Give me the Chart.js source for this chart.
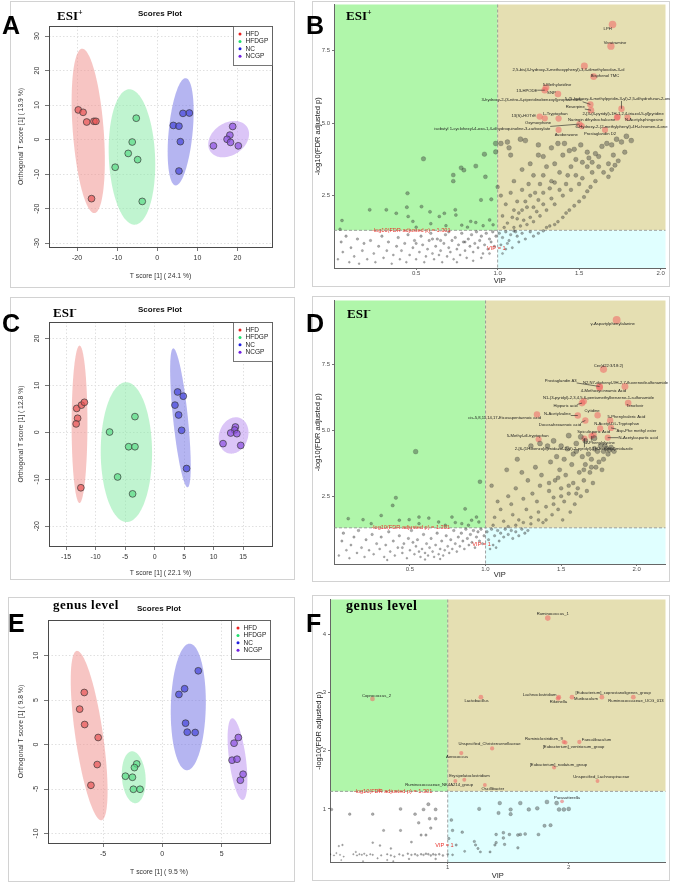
<!DOCTYPE html>
<html lang="en">
<head>
<meta charset="UTF-8">
<title>OPLS-DA scores and VIP plots</title>
<script src="https://cdn.jsdelivr.net/npm/chart.js"></script>
<style>
  body { margin:0; background:#fff; width:673px; height:885px; position:relative; overflow:hidden; }
  .frame { position:absolute; border:1px solid #d2d2d2; box-sizing:border-box; }
  .box { position:absolute; }
  .letter { position:absolute; font:bold 25px "Liberation Sans", Arial, sans-serif; line-height:1; color:#000; }
  .tag { position:absolute; font:bold 13px "Liberation Serif", "Times New Roman", serif; line-height:1; color:#000; white-space:nowrap; }
  .tag sup { font-size:8px; vertical-align:5px; }
  .ttl { position:absolute; font:bold 8px "Liberation Sans", Arial, sans-serif; line-height:1; transform:translateX(-50%); white-space:nowrap; color:#111; }
</style>
</head>
<body>

<!-- panel frames -->
<div class="frame" style="left:10px;top:1px;width:285px;height:287px"></div>
<div class="frame" style="left:312px;top:1px;width:358px;height:286px"></div>
<div class="frame" style="left:10px;top:297px;width:285px;height:283px"></div>
<div class="frame" style="left:312px;top:296px;width:358px;height:286px"></div>
<div class="frame" style="left:8px;top:597px;width:287px;height:285px"></div>
<div class="frame" style="left:312px;top:595px;width:358px;height:286px"></div>

<div class="box" style="left:10px;top:0px"><canvas id="chartA" width="285" height="288"></canvas></div>
<div class="box" style="left:312px;top:0px"><canvas id="chartB" width="358" height="287"></canvas></div>
<div class="box" style="left:10px;top:298px"><canvas id="chartC" width="285" height="282"></canvas></div>
<div class="box" style="left:312px;top:296px"><canvas id="chartD" width="358" height="286"></canvas></div>
<div class="box" style="left:8px;top:597px"><canvas id="chartE" width="287" height="285"></canvas></div>
<div class="box" style="left:312px;top:595px"><canvas id="chartF" width="358" height="286"></canvas></div>

<!-- letters, tags and titles -->
<div class="letter" style="left:2px;top:13px">A</div>
<div class="letter" style="left:306px;top:13px">B</div>
<div class="letter" style="left:2px;top:311px">C</div>
<div class="letter" style="left:306px;top:311px">D</div>
<div class="letter" style="left:8px;top:611px">E</div>
<div class="letter" style="left:306px;top:611px">F</div>

<div class="tag" style="left:57px;top:9px">ESI<sup>+</sup></div>
<div class="tag" style="left:346px;top:9px">ESI<sup>+</sup></div>
<div class="tag" style="left:53px;top:306px">ESI<sup>-</sup></div>
<div class="tag" style="left:347px;top:307px">ESI<sup>-</sup></div>
<div class="tag" style="left:53px;top:598px;letter-spacing:0.5px">genus level</div>
<div class="tag" style="left:346px;top:599px;font-size:14px;letter-spacing:0.6px">genus level</div>

<div class="ttl" style="left:160px;top:10px">Scores Plot</div>
<div class="ttl" style="left:160px;top:306px">Scores Plot</div>
<div class="ttl" style="left:159px;top:605px">Scores Plot</div>

<script>
// ---------------- data ----------------
const GROUPS = ['HFD', 'HFDGP', 'NC', 'NCGP'];

// A: ESI+ scores
const aHFD   = [[-19.7, 8.6], [-18.5, 7.9], [-17.6, 5.1], [-15.8, 5.3], [-15.3, 5.3], [-16.4, -17.1]];
const aHFDGP = [[-5.25, 6.2], [-6.25, -0.7], [-7.25, -4.0], [-4.9, -5.8], [-10.5, -8.0], [-3.75, -17.9]];
const aNC    = [[6.4, 7.6], [8.0, 7.7], [4.0, 4.1], [5.4, 3.9], [5.75, -0.6], [5.4, -9.1]];
const aNCGP  = [[18.8, 3.8], [18.1, 1.3], [17.4, 0.1], [18.25, -0.8], [20.2, -1.8], [14.0, -1.8]];
const aTicksX = [-20, -10, 0, 10, 20];
const aTicksY = [-30, -20, -10, 0, 10, 20, 30];

// C: ESI- scores
const cHFD   = [[-13.2, 5.1], [-12.4, 5.8], [-11.9, 6.4], [-13.05, 3.0], [-13.3, 1.8], [-12.5, -11.8]];
const cHFDGP = [[-3.33, 3.35], [-7.63, 0.07], [-4.4, -3.06], [-3.33, -3.06], [-6.27, -9.5], [-3.73, -13.1]];
const cNC    = [[3.9, 8.6], [4.86, 7.7], [3.45, 5.8], [4.07, 3.7], [4.58, 0.43], [5.42, -7.7]];
const cNCGP  = [[13.7, 1.14], [13.56, 0.5], [12.9, -0.14], [13.95, -0.28], [11.6, -2.4], [14.6, -2.78]];
const cTicksX = [-15, -10, -5, 0, 5, 10, 15];
const cTicksY = [-20, -10, 0, 10, 20];

// E: genus level scores
const eHFD   = [[-6.58, 5.85], [-6.97, 3.98], [-6.55, 2.25], [-5.41, 0.79], [-5.49, -2.25], [-6.02, -4.58]];
const eHFDGP = [[-2.16, -2.18], [-2.35, -2.59], [-3.11, -3.56], [-2.52, -3.68], [-2.44, -5.03], [-1.88, -5.03]];
const eNC    = [[3.03, 8.29], [1.88, 6.27], [1.40, 5.63], [1.96, 2.40], [2.10, 1.39], [2.77, 1.35]];
const eNCGP  = [[6.41, 0.79], [6.05, 0.15], [5.88, -1.76], [6.30, -1.65], [6.81, -3.34], [6.58, -4.01]];
const eTicksX = [-5, 0, 5];
const eTicksY = [-10, -5, 0, 5, 10];

// VIP plots: [VIP, -log10(FDR adjusted p)]
const VIP_CUT = 1;
const P_CUT = 1.301;

const bSigGray = [
  [0.545,3.77],[0.447,2.58],[0.919,3.93],[0.866,3.52],[0.925,3.15],[0.988,4.30],[0.988,4.01],[0.728,3.21],
  [0.728,3.00],[0.776,3.46],[0.793,3.38],[0.898,2.35],[0.961,2.37],[0.215,2.01],[0.317,2.01],[0.378,1.89],
  [0.443,2.10],[0.451,1.78],[0.533,2.12],[0.585,1.94],[0.642,1.78],[0.673,1.89],[0.74,2.01],[0.744,1.83],
  [0.835,1.61],[0.866,1.57],[0.911,1.46],[0.951,1.66],[0.972,1.49],[0.045,1.64],[0.033,1.34],[0.48,1.61],
  [0.5,1.41],[0.59,1.53],[0.683,1.46],[0.78,1.48],[0.815,1.41],
  [1.02,4.3],[1.06,4.35],[1.07,4.15],[1.14,4.45],[1.17,4.4],[1.25,4.25],[1.28,3.85],[1.33,4.15],[1.37,4.3],
  [1.41,4.3],[1.44,4.05],[1.47,4.1],[1.51,4.25],[1.55,4.0],[1.6,3.95],[1.64,4.2],[1.67,4.3],[1.7,4.25],
  [1.73,4.45],[1.76,4.35],[1.79,4.55],[1.82,4.4],[1.78,4.0],[1.74,3.7],[1.71,3.9],[1.68,3.6],[1.62,3.5],
  [1.58,3.3],[1.55,3.5],[1.52,3.1],[1.5,2.9],[1.48,3.2],[1.45,2.7],[1.42,2.9],[1.4,2.5],[1.38,2.7],
  [1.35,2.2],[1.33,2.4],[1.3,2.0],[1.28,2.2],[1.26,1.8],[1.24,1.95],[1.22,1.6],[1.2,1.75],[1.18,1.5],
  [1.16,1.65],[1.14,1.45],[1.65,3.3],[1.68,3.15],[1.7,3.4],[1.72,3.55],[1.6,3.0],[1.57,2.8],[1.55,2.65],
  [1.53,2.45],[1.5,2.3],[1.47,2.15],[1.44,2.0],[1.42,1.9],[1.4,1.75],[1.37,1.6],[1.35,1.5],[1.32,1.45],
  [1.3,1.4],[1.1,2.0],[1.12,2.3],[1.08,2.6],[1.05,2.2],[1.03,1.8],[1.06,1.55],[1.1,1.4],[1.04,1.4],
  [1.12,1.7],[1.15,2.0],[1.17,2.3],[1.2,2.5],[1.15,2.7],[1.19,2.9],[1.23,2.6],[1.26,2.9],[1.22,3.2],
  [1.28,3.2],[1.3,3.5],[1.2,3.6],[1.15,3.4],[1.1,3.0],[1.08,3.9],[1.25,3.9],[1.35,3.6],[1.4,3.9],
  [1.38,3.3],[1.33,3.0],[1.45,3.5],[1.48,3.75],[1.43,3.2],[1.52,3.65],[1.56,3.8],[1.62,3.85],[1.58,3.65],
  [1.25,2.35],[1.28,2.6],[1.32,2.75],[1.35,2.95],[1.18,2.1],[1.22,2.1],[1.13,1.9],[1.09,1.75],[1.0,2.8],
  [1.02,2.5]
];
const bNsGray = [
  [1.01,1.2],[1.03,1.05],[1.05,1.25],[1.07,0.95],[1.08,1.15],[1.1,1.28],[1.12,1.1],[1.13,0.9],[1.15,1.2],
  [1.17,1.0],[1.2,1.25],[1.22,1.1],[1.25,1.2],[1.02,0.8],[1.05,0.65],[1.09,0.7],[1.03,0.5],[1.06,0.85],
  [1.11,1.25],[1.28,1.28],
  [0.02,0.3],[0.04,0.9],[0.05,0.55],[0.07,1.1],[0.09,0.2],[0.1,0.7],[0.12,0.4],[0.14,1.0],[0.15,0.15],
  [0.17,0.6],[0.18,0.85],[0.2,0.3],[0.22,0.95],[0.24,0.5],[0.25,0.2],[0.27,0.75],[0.29,1.1],[0.3,0.35],
  [0.32,0.6],[0.33,0.9],[0.35,0.15],[0.36,0.45],[0.38,0.75],[0.39,1.05],[0.4,0.3],[0.41,0.6],[0.43,0.85],
  [0.44,0.2],[0.45,1.15],[0.46,0.45],[0.48,0.7],[0.49,0.95],[0.5,0.3],[0.52,0.55],[0.53,1.1],[0.54,0.8],
  [0.55,0.2],[0.56,0.4],[0.57,0.65],[0.58,0.95],[0.59,1.2],[0.6,0.5],[0.61,0.3],[0.62,0.75],[0.63,1.0],
  [0.64,0.45],[0.65,0.6],[0.66,0.2],[0.67,0.85],[0.68,1.15],[0.69,0.4],[0.7,0.7],[0.71,0.55],[0.72,0.95],
  [0.73,0.3],[0.74,1.05],[0.75,0.65],[0.76,0.8],[0.77,0.45],[0.78,1.2],[0.79,0.9],[0.8,0.6],[0.81,0.35],
  [0.82,1.0],[0.83,0.75],[0.84,1.15],[0.85,0.55],[0.86,0.85],[0.87,1.25],[0.88,0.7],[0.89,0.95],[0.9,1.1],
  [0.91,0.5],[0.92,0.8],[0.93,1.2],[0.94,0.65],[0.95,1.0],[0.96,0.9],[0.97,1.25],[0.98,0.75],[0.99,1.1],
  [0.9,0.35],[0.85,0.25],[0.75,0.2],[0.7,1.25],[0.6,1.0],[0.5,0.85],[0.65,0.95],[0.8,0.9],[0.95,0.5]
];
const bHits = [
  ['LPH', 1.705, 8.41],
  ['Veratramine', 1.695, 7.66],
  ['2,5-bis(4-hydroxy-3-methoxyphenyl)-3,4-dimethyloxolan-3-ol', 1.532, 6.98],
  ['Bisphenol TMC', 1.589, 6.61],
  ['5-Methyluridine', 1.297, 6.23],
  ['13-HPODE', 1.289, 6.14],
  ['SNP', 1.37, 6.01],
  ['3-hydroxy-2-(3-nitro-4-piperidinobenzoyl)propanenitrile', 1.569, 5.65],
  ['5-(5-hydroxy-6-methylpyridin-3-yl)-2,5-dihydrofuran-2-one', 1.76, 5.50],
  ['Reserpine', 1.573, 5.45],
  ['2-[3-(4-pyridyl)-1H-1,2,4-triazol-5-yl]pyridine', 1.732, 5.19],
  ['13(S)-HOTrE', 1.258, 5.23],
  ['L-Tryptophan', 1.374, 5.16],
  ['Oxymorphone', 1.289, 5.17],
  ['Naringin dihydrochalcone', 1.736, 5.22],
  ['N-Acetylsphingosine', 1.797, 5.19],
  ['isobutyl 1-cyclohexyl-4-oxo-1,4-dihydroquinoline-3-carboxylate', 1.502, 4.97],
  ['6-Hydroxy-2-(2-methylphenyl)-4H-chromen-4-one', 1.516, 4.90],
  ['Avobenzone', 1.374, 4.77],
  ['Prostaglandin D2', 1.659, 4.77]
];
const bLabelAt = [[1.675,8.27],[1.72,7.78],[1.435,6.86],[1.659,6.64],[1.364,6.32],[1.179,6.12],[1.33,6.06],
  [1.211,5.81],[1.74,5.84],[1.476,5.56],[1.77,5.34],[1.16,5.25],[1.354,5.33],[1.248,5.03],[1.577,5.13],
  [1.898,5.10],[0.967,4.82],[1.76,4.87],[1.421,4.61],[1.628,4.64]];
const bTicksX = [0.5, 1.0, 1.5, 2.0];
const bTicksY = [2.5, 5.0, 7.5];

const dSigGray = [
  [0.538,4.19],[0.963,3.05],[0.407,2.44],[0.386,2.15],[0.865,2.02],[0.56,1.71],[0.092,1.65],[0.19,1.61],
  [0.31,1.77],[0.43,1.59],[0.495,1.61],[0.625,1.67],[0.69,1.52],[0.778,1.71],[0.8,1.5],[0.843,1.46],
  [0.908,1.59],[0.94,1.71],[0.956,1.52],[0.887,1.4],[0.244,1.46],[0.56,1.46],[0.734,1.4],
  [1.04,2.9],[1.08,2.3],[1.06,1.7],[1.1,2.0],[1.12,1.55],[1.14,3.5],[1.15,2.5],[1.17,2.2],[1.18,1.8],
  [1.2,2.8],[1.21,3.9],[1.22,1.6],[1.24,3.4],[1.25,2.4],[1.27,2.0],[1.28,3.1],[1.3,1.7],[1.31,2.6],
  [1.33,3.6],[1.34,2.3],[1.35,1.9],[1.36,2.9],[1.37,3.3],[1.38,1.5],[1.4,2.1],[1.41,4.4],[1.42,2.7],
  [1.43,3.8],[1.44,1.8],[1.45,2.45],[1.46,3.1],[1.47,4.0],[1.48,2.0],[1.49,3.5],[1.5,2.8],[1.51,1.6],
  [1.52,2.3],[1.53,3.3],[1.54,4.3],[1.55,2.6],[1.56,1.9],[1.57,3.7],[1.58,3.0],[1.59,2.2],[1.6,4.2],
  [1.61,2.8],[1.62,3.4],[1.63,2.5],[1.64,4.0],[1.65,3.1],[1.66,3.7],[1.67,2.7],[1.68,4.1],[1.69,3.4],
  [1.7,3.9],[1.71,3.0],[1.72,4.3],[1.73,3.6],[1.74,4.2],[1.75,3.8],[1.76,4.4],[1.77,3.5],[1.78,4.2],
  [1.79,4.4],[1.8,4.3],[1.81,4.1],[1.82,4.25],[1.83,4.35],[1.85,4.2],[1.78,3.9],[1.7,3.6],[1.65,3.5],
  [1.6,2.6],[1.55,2.9],[1.5,2.5],[1.45,2.2],[1.35,1.6],[1.25,1.5],[1.15,1.35],[1.05,1.4],[1.3,1.45],
  [1.4,1.6],[1.2,1.4],[1.6,4.5],[1.5,4.4],[1.45,4.6],[1.66,4.6],[1.72,4.7],[1.55,4.8],[1.63,4.75],
  [1.3,4.4],[1.36,4.5],[1.42,3.0],[1.52,3.9],[1.58,4.1],[1.48,3.2]
];
const dNsGray = [
  [1.01,1.15],[1.02,0.85],[1.04,1.25],[1.05,0.65],[1.06,1.0],[1.08,1.2],[1.09,0.8],[1.1,1.1],[1.12,0.95],
  [1.13,1.25],[1.15,1.05],[1.17,1.2],[1.18,0.9],[1.2,1.15],[1.22,1.0],[1.24,1.25],[1.26,1.1],[1.28,1.2],
  [1.03,0.5],[1.07,0.55],
  [0.03,0.25],[0.05,0.8],[0.06,1.1],[0.08,0.45],[0.1,0.15],[0.11,0.65],[0.13,0.95],[0.15,0.35],[0.16,1.2],
  [0.18,0.55],[0.2,0.2],[0.21,0.85],[0.23,0.45],[0.25,1.05],[0.26,0.3],[0.28,0.7],[0.3,0.5],[0.31,0.95],
  [0.33,0.2],[0.34,0.65],[0.36,1.15],[0.37,0.4],[0.39,0.8],[0.4,0.25],[0.42,0.55],[0.43,1.0],[0.45,0.35],
  [0.46,0.7],[0.48,0.15],[0.49,0.9],[0.5,0.45],[0.51,1.2],[0.53,0.3],[0.54,0.6],[0.55,0.85],[0.57,0.2],
  [0.58,0.5],[0.59,1.05],[0.6,0.35],[0.61,0.7],[0.62,0.25],[0.63,0.55],[0.64,0.9],[0.65,0.4],[0.66,0.2],
  [0.67,0.65],[0.68,1.1],[0.69,0.3],[0.7,0.5],[0.71,0.8],[0.72,0.25],[0.73,0.45],[0.74,1.0],[0.75,0.6],
  [0.76,0.35],[0.77,0.85],[0.78,0.5],[0.79,1.2],[0.8,0.7],[0.81,0.4],[0.82,0.95],[0.83,0.6],[0.84,1.1],
  [0.85,0.8],[0.86,0.5],[0.87,1.25],[0.88,0.9],[0.89,0.65],[0.9,1.05],[0.91,0.75],[0.92,1.2],[0.93,0.55],
  [0.94,0.95],[0.95,1.15],[0.96,0.8],[0.97,1.25],[0.98,0.7],[0.99,1.0],[0.6,0.1],[0.7,0.12],[0.35,0.08],
  [0.45,0.55],[0.52,0.75],[0.56,0.4]
];
const dHits = [
  ['γ-Aspartylphenylalanine', 1.867, 9.18],
  ['Cer(d22:3/18:2)', 1.78, 7.31],
  ['Prostaglandin A3', 1.754, 6.66],
  ['N2,N7-diphenyl-9H-2,7-fluorenedisulfonamide', 1.922, 6.66],
  ['4-Methoxycinnamic Acid', 1.754, 6.62],
  ['N1-(3-pyridyl)-2,3,4,5,6-pentamethylbenzene-1-sulfonamide', 1.649, 6.10],
  ['Hippuric acid', 1.638, 6.03],
  ['Tenofovir', 1.943, 6.03],
  ['cis-5,8,11,14,17-Eicosapentaenoic acid', 1.34, 5.60],
  ['N-Acetylvaline', 1.61, 5.56],
  ['Cytidine', 1.741, 5.57],
  ['5-Phenylvaleric Acid', 1.824, 5.37],
  ['Docosahexaenoic acid', 1.66, 5.37],
  ['N-Acetyl-DL-Tryptophan', 1.758, 5.07],
  ['Asp-Phe methyl ester', 1.83, 5.09],
  ['Spiculisporic Acid', 1.715, 4.82],
  ['N-Acetylaspartic acid', 1.808, 4.72],
  ['5-Methyl-dl-tryptophan', 1.351, 4.66],
  ['2-Phenylglycine', 1.70, 4.78],
  ['2-[6-(1H-benzo[d]imidazol-2-yl)-2-pyridyl]-1H-benzo[d]imidazole', 1.654, 4.69]
];
const dLabelAt = [[1.841,9.02],[1.813,7.45],[1.497,6.87],[1.926,6.81],[1.78,6.51],[1.747,6.22],[1.529,5.91],
  [1.987,5.91],[1.126,5.47],[1.475,5.62],[1.704,5.72],[1.932,5.50],[1.492,5.22],[1.867,5.24],[1.998,4.97],
  [1.715,4.94],[2.009,4.72],[1.279,4.78],[1.758,4.53],[1.584,4.28]];
const dTicksX = [0.5, 1.0, 1.5, 2.0];
const dTicksY = [2.5, 5.0, 7.5];

const fNsGray = [
  [1.26,1.0],[1.43,1.1],[1.52,0.99],[1.52,0.91],[1.60,1.1],[1.67,0.99],[1.74,1.01],[1.82,1.12],[1.90,1.1],
  [1.92,0.99],[1.96,0.99],[2.0,1.0],[1.42,0.93],[1.80,0.71],[1.85,0.72],[1.03,0.81],[1.04,0.63],[1.12,0.60],
  [1.40,0.56],[1.46,0.59],[1.46,0.50],[1.51,0.56],[1.58,0.55],[1.60,0.56],[1.64,0.57],[1.75,0.56],[1.22,0.44],
  [1.23,0.38],[1.25,0.32],[1.27,0.26],[1.35,0.26],[1.39,0.38],[1.47,0.39],[1.58,0.33],[1.01,0.49],[1.07,0.38],
  [1.14,0.27],[1.40,0.42],
  [0.04,0.99],[0.19,0.91],[0.38,0.91],[0.61,1.0],[0.73,0.91],[0.80,0.99],[0.84,1.08],[0.90,0.99],[0.76,0.76],
  [0.85,0.83],[0.90,0.83],[0.47,0.63],[0.61,0.63],[0.78,0.55],[0.82,0.55],[0.86,0.67],[0.53,0.32],[0.70,0.43],
  [0.03,0.22],[0.06,0.2],[0.08,0.24],[0.11,0.21],[0.14,0.18],[0.22,0.22],[0.25,0.2],[0.27,0.22],[0.29,0.21],
  [0.31,0.23],[0.33,0.2],[0.36,0.22],[0.38,0.21],[0.42,0.15],[0.45,0.2],[0.5,0.22],[0.53,0.2],[0.56,0.18],
  [0.6,0.22],[0.63,0.2],[0.67,0.23],[0.7,0.21],[0.73,0.22],[0.75,0.2],[0.78,0.22],[0.8,0.21],[0.82,0.23],
  [0.84,0.22],[0.86,0.2],[0.88,0.22],[0.9,0.21],[0.93,0.22],[0.96,0.2],[1.0,0.22],[1.04,0.21],[0.12,0.12],
  [0.3,0.1],[0.5,0.12],[0.55,0.1],[0.1,0.36],[0.13,0.38],[0.38,0.42],[0.44,0.37],[0.24,0.26],[0.68,0.14],
  [0.9,0.14]
];
const fHits = [
  ['Ruminococcus_1', 1.827, 4.28],
  ['Coprococcus_2', 0.378, 2.89],
  ['Lactobacillus', 1.274, 2.92],
  ['Lachnoclostridium', 1.918, 2.92],
  ['Rikenella', 1.912, 2.90],
  ['Muribaculum', 2.027, 2.92],
  ['[Eubacterium]_coprostanoligenes_group', 2.274, 2.92],
  ['Ruminococcaceae_UCG_013', 2.534, 2.92],
  ['Ruminiclostridium_9', 1.959, 2.15],
  ['[Eubacterium]_ventriosum_group', 1.973, 2.14],
  ['Faecalibaculum', 2.088, 2.15],
  ['Unspecified_Christensenellaceae', 1.367, 2.04],
  ['Aerococcus', 1.112, 1.96],
  ['[Eubacterium]_nodatum_group', 1.879, 1.71],
  ['Unspecified_Lachnospiraceae', 2.238, 1.48],
  ['Erysipelatoclostridium', 1.137, 1.50],
  ['Ruminococcaceae_NK4A214_group', 1.063, 1.48],
  ['Oscillibacter', 1.307, 1.41],
  ['Parasutterella', 1.945, 1.13],
  ['', 0.433, 1.32]
];
const fLabelAt = [[1.868,4.35],[0.411,2.95],[1.238,2.85],[1.76,2.96],[1.915,2.84],[2.142,2.89],[2.367,3.0],
  [2.556,2.85],[1.795,2.21],[2.04,2.06],[2.23,2.18],[1.345,2.11],[1.077,1.90],[1.915,1.76],[2.27,1.55],
  [1.18,1.56],[0.929,1.41],[1.373,1.35],[1.986,1.19],[0.433,1.32]];
const fTicksX = [1, 2];
const fTicksY = [1, 2, 3, 4];

// ---------------- styling ----------------
const FONT = '"Liberation Sans", Arial, Helvetica, sans-serif';
const CHI2 = 5.991; // 95 % confidence region, 2 df
const PT_COL  = ['rgba(232,85,85,0.7)', 'rgba(90,220,135,0.7)', 'rgba(70,70,220,0.7)', 'rgba(140,80,225,0.7)'];
const ELL_COL = ['rgba(240,150,145,0.55)', 'rgba(140,235,170,0.55)', 'rgba(120,120,230,0.55)', 'rgba(190,150,240,0.55)'];
const KEY_COL = ['#e82020', '#20e070', '#2020e0', '#7020e0'];
const GREEN = '#b0f6aa', TAN = '#e5dfb2', CYAN = '#e0ffff';

const toXY = p => ({ x: p[0], y: p[1] });

function confEllipse(pts) {
  const n = pts.length;
  const mx = pts.reduce((s, p) => s + p.x, 0) / n;
  const my = pts.reduce((s, p) => s + p.y, 0) / n;
  let sxx = 0, syy = 0, sxy = 0;
  pts.forEach(p => {
    const dx = p.x - mx, dy = p.y - my;
    sxx += dx * dx; syy += dy * dy; sxy += dx * dy;
  });
  sxx /= n - 1; syy /= n - 1; sxy /= n - 1;
  const tr = sxx + syy, det = sxx * syy - sxy * sxy;
  const disc = Math.sqrt(Math.max(tr * tr / 4 - det, 0));
  return {
    mx, my,
    a: Math.sqrt((tr / 2 + disc) * CHI2),
    b: Math.sqrt(Math.max(tr / 2 - disc, 0) * CHI2),
    th: 0.5 * Math.atan2(2 * sxy, sxx - syy)
  };
}

// ellipses, box and in-plot legend for the scores plots
const scoresPlugin = {
  id: 'scoresDeco',
  beforeDatasetsDraw(chart) {
    const { ctx, chartArea: a, scales: { x, y } } = chart;
    ctx.save();
    ctx.beginPath(); ctx.rect(a.left, a.top, a.width, a.height); ctx.clip();
    chart.data.datasets.forEach(ds => {
      const e = confEllipse(ds.data);
      ctx.beginPath();
      for (let k = 0; k <= 144; k++) {
        const t = k / 144 * Math.PI * 2;
        const ex = e.mx + e.a * Math.cos(t) * Math.cos(e.th) - e.b * Math.sin(t) * Math.sin(e.th);
        const ey = e.my + e.a * Math.cos(t) * Math.sin(e.th) + e.b * Math.sin(t) * Math.cos(e.th);
        const px = x.getPixelForValue(ex), py = y.getPixelForValue(ey);
        if (k) ctx.lineTo(px, py); else ctx.moveTo(px, py);
      }
      ctx.closePath();
      ctx.fillStyle = ds.ellipseColor;
      ctx.fill();
    });
    ctx.restore();
  },
  afterDatasetsDraw(chart) {
    const { ctx, chartArea: a } = chart;
    ctx.save();
    ctx.strokeStyle = '#4a4a4a'; ctx.lineWidth = 1;
    ctx.strokeRect(Math.round(a.left) + 0.5, Math.round(a.top) + 0.5, Math.round(a.width), Math.round(a.height));
    // legend box
    const bw = 39, bh = 39;
    const bx = Math.round(a.right) - bw + 0.5, by = Math.round(a.top) + 0.5;
    ctx.fillStyle = '#fff'; ctx.fillRect(bx, by, bw, bh);
    ctx.strokeStyle = '#555'; ctx.lineWidth = 0.8; ctx.strokeRect(bx, by, bw, bh);
    ctx.font = '6.5px ' + FONT; ctx.textBaseline = 'middle'; ctx.textAlign = 'left';
    chart.data.datasets.forEach((ds, i) => {
      const cy = by + 7.5 + i * 7.4;
      ctx.beginPath(); ctx.arc(bx + 6.5, cy, 1.5, 0, Math.PI * 2);
      ctx.fillStyle = ds.keyColor; ctx.fill();
      ctx.fillStyle = '#222'; ctx.fillText(ds.label, bx + 12, cy);
    });
    ctx.restore();
  }
};

function scoresChart(id, groups, xTicks, yTicks, xr, yr, lay, xTitle, yTitle) {
  const grid = { color: '#e0e0e0', lineWidth: 1, tickLength: 4, tickColor: '#555', tickWidth: 0.8 };
  const tickFont = { size: 7, family: FONT };
  new Chart(document.getElementById(id), {
    type: 'scatter',
    data: {
      datasets: groups.map((g, i) => ({
        label: GROUPS[i],
        data: g.map(toXY),
        backgroundColor: PT_COL[i],
        borderColor: '#3a3a3a',
        borderWidth: 0.7,
        pointRadius: 3.4,
        ellipseColor: ELL_COL[i],
        keyColor: KEY_COL[i]
      }))
    },
    options: {
      responsive: false, animation: false, events: [],
      layout: { padding: { left: lay.pl, top: lay.pt, right: lay.pr, bottom: lay.pb } },
      plugins: { legend: { display: false }, tooltip: { enabled: false } },
      scales: {
        x: {
          type: 'linear', min: xr[0], max: xr[1],
          afterBuildTicks: s => { s.ticks = xTicks.map(v => ({ value: v })); },
          afterFit: s => { s.height = lay.xh; s.paddingLeft = 0; s.paddingRight = 0; },
          grid, border: { display: false, dash: [1.5, 2] },
          ticks: { autoSkip: false, maxRotation: 0, color: '#333', font: tickFont, padding: 3 },
          title: { display: true, text: xTitle, color: '#333', font: { size: 6.8, family: FONT }, padding: 0 }
        },
        y: {
          type: 'linear', min: yr[0], max: yr[1],
          afterBuildTicks: s => { s.ticks = yTicks.map(v => ({ value: v })); },
          afterFit: s => { s.width = lay.yw; s.paddingTop = 0; s.paddingBottom = 0; },
          grid, border: { display: false, dash: [1.5, 2] },
          ticks: { autoSkip: false, minRotation: 90, maxRotation: 90, crossAlign: 'center',
                   color: '#333', font: tickFont, padding: 3 },
          title: { display: true, text: yTitle, color: '#333', font: { size: 6.8, family: FONT }, padding: 0 }
        }
      }
    },
    plugins: [scoresPlugin]
  });
}

// coloured quadrants, cut-off lines and labels for the VIP plots
const vipPlugin = {
  id: 'vipDeco',
  beforeDraw(chart) {
    const { ctx, chartArea: a, scales: { x, y } } = chart;
    const xv = x.getPixelForValue(VIP_CUT), yp = y.getPixelForValue(P_CUT);
    ctx.save();
    ctx.fillStyle = GREEN; ctx.fillRect(a.left, a.top, xv - a.left, yp - a.top);
    ctx.fillStyle = TAN;   ctx.fillRect(xv, a.top, a.right - xv, yp - a.top);
    ctx.fillStyle = CYAN;  ctx.fillRect(xv, yp, a.right - xv, a.bottom - yp);
    ctx.restore();
  },
  beforeDatasetsDraw(chart) {
    const { ctx, chartArea: a, scales: { x, y } } = chart;
    const xv = x.getPixelForValue(VIP_CUT), yp = y.getPixelForValue(P_CUT);
    ctx.save();
    ctx.strokeStyle = '#8a8a8a'; ctx.lineWidth = 0.8; ctx.setLineDash([3, 2]);
    ctx.beginPath();
    ctx.moveTo(a.left, yp); ctx.lineTo(a.right, yp);
    ctx.moveTo(xv, a.top); ctx.lineTo(xv, a.bottom);
    ctx.stroke();
    ctx.restore();
  },
  afterDatasetsDraw(chart, args, opts) {
    const { ctx, scales: { x, y } } = chart;
    ctx.save();
    ctx.textAlign = 'center'; ctx.textBaseline = 'middle';
    ctx.fillStyle = '#e8332c'; ctx.font = '5.6px ' + FONT;
    ctx.fillText('-log10(FDR adjusted p) = 1.301', x.getPixelForValue(opts.capP), y.getPixelForValue(P_CUT));
    ctx.fillText('VIP = 1', x.getPixelForValue(opts.capVip[0]), y.getPixelForValue(opts.capVip[1]));
    ctx.font = '4.2px ' + FONT;
    opts.hits.forEach((h, i) => {
      if (!h[0]) return;
      const px = x.getPixelForValue(h[1]), py = y.getPixelForValue(h[2]);
      const lx = x.getPixelForValue(opts.labelAt[i][0]), ly = y.getPixelForValue(opts.labelAt[i][1]);
      const w = ctx.measureText(h[0]).width;
      const nx = Math.min(Math.max(px, lx - w / 2), lx + w / 2);
      const ny = Math.min(Math.max(py, ly - 2), ly + 2);
      if (Math.hypot(px - nx, py - ny) > 4) {
        ctx.strokeStyle = '#222'; ctx.lineWidth = 0.6;
        ctx.beginPath(); ctx.moveTo(nx, ny); ctx.lineTo(px, py); ctx.stroke();
      }
      ctx.fillStyle = '#1e1e1e';
      ctx.fillText(h[0], lx, ly);
    });
    ctx.restore();
  }
};

function vipChart(id, gray, hits, labelAt, xTicks, yTicks, xr, yr, lay, cap, grayRadius, hitRadius, fmt) {
  const grid = { drawOnChartArea: false, tickLength: 2, tickColor: '#555', tickWidth: 0.8 };
  const tickFont = { size: 6, family: FONT };
  new Chart(document.getElementById(id), {
    type: 'scatter',
    data: {
      datasets: [
        { label: 'not labelled', data: gray.map(toXY), backgroundColor: 'rgba(50,50,50,0.4)',
          borderColor: 'rgba(30,30,30,0.35)', borderWidth: 0.5, pointRadius: grayRadius },
        { label: 'labelled', data: hits.map(h => ({ x: h[1], y: h[2] })), backgroundColor: 'rgba(240,100,100,0.55)',
          borderWidth: 0, pointRadius: hitRadius }
      ]
    },
    options: {
      responsive: false, animation: false, events: [],
      layout: { padding: { left: lay.pl, top: lay.pt, right: lay.pr, bottom: lay.pb } },
      plugins: {
        legend: { display: false }, tooltip: { enabled: false },
        vipDeco: { hits, labelAt, capP: cap.p, capVip: cap.vip }
      },
      scales: {
        x: {
          type: 'linear', min: xr[0], max: xr[1],
          afterBuildTicks: s => { s.ticks = xTicks.map(v => ({ value: v })); },
          afterFit: s => { s.height = lay.xh; s.paddingLeft = 0; s.paddingRight = 0; },
          grid, border: { display: true, color: '#666', width: 1 },
          ticks: { autoSkip: false, maxRotation: 0, color: '#4d4d4d', font: tickFont, padding: 0,
                   callback: v => fmt(v) },
          title: { display: true, text: 'VIP', color: '#222', font: { size: 7.5, family: FONT }, padding: 0 }
        },
        y: {
          type: 'linear', min: yr[0], max: yr[1],
          afterBuildTicks: s => { s.ticks = yTicks.map(v => ({ value: v })); },
          afterFit: s => { s.width = lay.yw; s.paddingTop = 0; s.paddingBottom = 0; },
          grid, border: { display: true, color: '#666', width: 1 },
          ticks: { autoSkip: false, color: '#4d4d4d', font: tickFont, padding: 2, callback: v => fmt(v) },
          title: { display: true, text: '-log10(FDR adjusted p)', color: '#222', font: { size: 7.5, family: FONT }, padding: 0 }
        }
      }
    },
    plugins: [vipPlugin]
  });
}

const oneDec = v => v.toFixed(1);
const noDec = v => String(v);

scoresChart('chartA', [aHFD, aHFDGP, aNC, aNCGP], aTicksX, aTicksY, [-27, 28.6], [-31.1, 32.9],
  { pl: 6.8, pt: 26, pr: 23, pb: 7.8, yw: 32.2, xh: 33.2 },
  'T score [1] ( 24.1 %)', 'Orthogonal T score [1] ( 13.9 %)');
scoresChart('chartC', [cHFD, cHFDGP, cNC, cNCGP], cTicksX, cTicksY, [-17.9, 19.9], [-24.2, 23.5],
  { pl: 6.8, pt: 24, pr: 23, pb: 2.5, yw: 32.2, xh: 31.5 },
  'T score [1] ( 22.1 %)', 'Orthogonal T score [1] ( 12.8 %)');
scoresChart('chartE', [eHFD, eHFDGP, eNC, eNCGP], eTicksX, eTicksY, [-9.64, 9.08], [-11.07, 14.0],
  { pl: 8.8, pt: 23, pr: 25, pb: 6.1, yw: 31.2, xh: 32.9 },
  'T score [1] ( 9.5 %)', 'Orthogonal T score [1] ( 9.8 %)');

vipChart('chartB', bSigGray.concat(bNsGray), bHits, bLabelAt, bTicksX, bTicksY, [-0.004, 2.03], [0, 9.1],
  { pl: 1.5, pt: 4, pr: 3, pb: 1.2, yw: 20.5, xh: 17.8 }, { p: 0.47, vip: [0.992, 0.69] },
  c => 0.9 + 0.36 * c.raw.y, c => 2.1 + 0.2 * c.raw.y, oneDec);
vipChart('chartD', dSigGray.concat(dNsGray), dHits, dLabelAt, dTicksX, dTicksY, [-0.002, 2.19], [-0.07, 9.92],
  { pl: 1.5, pt: 2, pr: 1, pb: 2.2, yw: 20.5, xh: 15.8 }, { p: 0.505, vip: [0.974, 0.67] },
  c => 0.9 + 0.36 * c.raw.y, c => 2.1 + 0.2 * c.raw.y, oneDec);
vipChart('chartF', fNsGray, fHits, fLabelAt, fTicksX, fTicksY, [0.027, 2.8], [0.087, 4.6],
  { pl: 2.5, pt: 3, pr: 3, pb: 0.2, yw: 15.5, xh: 18.8 }, { p: 0.548, vip: [0.973, 0.37] },
  c => 0.5 + 0.8 * c.raw.y + 0.35 * c.raw.x, c => 1.5 + 0.3 * c.raw.y, noDec);
</script>
</body>
</html>
